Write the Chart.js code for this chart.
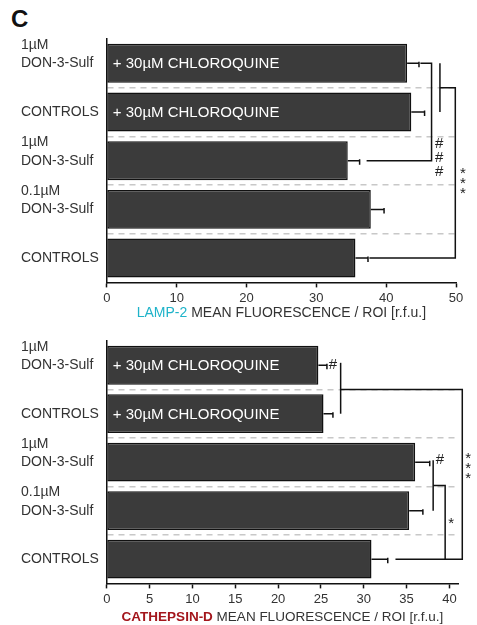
<!DOCTYPE html>
<html>
<head>
<meta charset="utf-8">
<script src="https://cdn.jsdelivr.net/npm/chart.js@4.4.0/dist/chart.umd.min.js"></script>
<style>
  body { margin: 0; background: #fff; width: 477px; height: 625px; position: relative; overflow: hidden; }
  #panel { position: absolute; left: 11px; top: 7px; font: bold 24px "Liberation Sans", Arial, sans-serif; line-height: 24px; color: #111; }
  #lampChart { position: absolute; left: 0; top: 0; }
  #cathChart { position: absolute; left: 0; top: 320px; }
</style>
</head>
<body>
<div id="panel">C</div>
<canvas id="lampChart" width="477" height="320"></canvas>
<canvas id="cathChart" width="477" height="305"></canvas>
<script>
const FONT = '"Liberation Sans", Arial, sans-serif';

// categories, top to bottom
const categories = [
    ['1µM', 'DON-3-Sulf', ''],
    'CONTROLS',
    ['1µM', 'DON-3-Sulf', ''],
    ['0.1µM', 'DON-3-Sulf', ''],
    'CONTROLS'
];
const barNotes = ['+ 30µM CHLOROQUINE', '+ 30µM CHLOROQUINE', '', '', ''];

// LAMP-2 panel
const lampValues = [43.0, 43.6, 34.5, 37.8, 35.6];
const lampErrors = [1.7, 1.9, 1.7, 1.9, 1.8];
const lampTicks = [0, 10, 20, 30, 40, 50];

// CATHEPSIN-D panel
const cathValues = [24.7, 25.3, 36.0, 35.3, 30.9];
const cathErrors = [1.0, 1.1, 1.7, 1.6, 1.9];
const cathTicks = [0, 5, 10, 15, 20, 25, 30, 35, 40];

// significance brackets, [value, category position]
const lampBrackets = [
    [[44.9, 0], [46.5, 0], [46.5, 2], [37.2, 2]],
    [[47.7, 0], [47.7, 1]],
    [[47.7, 0.5], [49.9, 0.5], [49.9, 4], [37.6, 4]]
];
const lampMarks = [
    { text: '###', x: 47.6, y: 1.95, gap: 14 },
    { text: '***', x: 51.0, y: 2.42, gap: 10 }
];

const cathBrackets = [
    [[27.3, -0.05], [27.3, 1.0]],
    [[27.3, 0.5], [41.5, 0.5], [41.5, 4], [33.7, 4]],
    [[38.1, 1.96], [38.1, 3.0]],
    [[38.1, 2.48], [39.5, 2.48], [39.5, 4]]
];
const cathMarks = [
    { text: '#', x: 26.4, y: 0, gap: 0 },
    { text: '#', x: 38.9, y: 1.96, gap: 0 },
    { text: '*', x: 40.2, y: 3.2, gap: 0 },
    { text: '***', x: 42.2, y: 2.07, gap: 10 }
];

function overlayPlugin(values, errors, brackets, marks, title) {
    return {
        id: 'overlay',
        afterDatasetsDraw(chart) {
            const ctx = chart.ctx;
            const xs = chart.scales.x;
            const ys = chart.scales.y;
            const bars = chart.getDatasetMeta(0).data;
            ctx.save();
            ctx.strokeStyle = '#111';
            ctx.lineWidth = 1.5;

            // error bars
            bars.forEach((bar, i) => {
                const xe = xs.getPixelForValue(values[i] + errors[i]);
                ctx.beginPath();
                ctx.moveTo(bar.x, bar.y);
                ctx.lineTo(xe, bar.y);
                ctx.moveTo(xe, bar.y - 1.5);
                ctx.lineTo(xe, bar.y + 4);
                ctx.stroke();
            });

            // text inside bars
            ctx.fillStyle = '#fff';
            ctx.font = '15px ' + FONT;
            ctx.textBaseline = 'middle';
            ctx.textAlign = 'left';
            bars.forEach((bar, i) => {
                if (barNotes[i]) ctx.fillText(barNotes[i], chart.chartArea.left + 6, bar.y + 1);
            });

            // brackets
            brackets.forEach(pts => {
                ctx.beginPath();
                pts.forEach((p, k) => {
                    const px = xs.getPixelForValue(p[0]);
                    const py = ys.getPixelForValue(p[1]);
                    if (k === 0) ctx.moveTo(px, py); else ctx.lineTo(px, py);
                });
                ctx.stroke();
            });

            // significance marks
            ctx.fillStyle = '#222';
            ctx.font = '15px ' + FONT;
            ctx.textAlign = 'center';
            marks.forEach(m => {
                const chars = m.text.split('');
                const cx = xs.getPixelForValue(m.x);
                const cy = ys.getPixelForValue(m.y);
                chars.forEach((c, k) => {
                    const off = (k - (chars.length - 1) / 2) * m.gap + (c === '*' ? 3 : 0);
                    ctx.fillText(c, cx, cy + off);
                });
            });
            ctx.restore();
        },
        afterDraw(chart) {
            // axis title with coloured marker name
            const ctx = chart.ctx;
            const area = chart.chartArea;
            const rest = ' MEAN FLUORESCENCE / ROI [r.f.u.]';
            ctx.save();
            ctx.textBaseline = 'middle';
            ctx.textAlign = 'left';
            const nameFont = (title.bold ? 'bold ' : '') + title.size + 'px ' + FONT;
            const restFont = title.size + 'px ' + FONT;
            ctx.font = nameFont;
            const w1 = ctx.measureText(title.name).width;
            ctx.font = restFont;
            const w2 = ctx.measureText(rest).width;
            const x = (area.left + area.right) / 2 - (w1 + w2) / 2;
            const y = area.bottom + title.offset;
            ctx.font = nameFont;
            ctx.fillStyle = title.color;
            ctx.fillText(title.name, x, y);
            ctx.font = restFont;
            ctx.fillStyle = '#333';
            ctx.fillText(rest, x + w1, y);
            ctx.restore();
        }
    };
}

function createBarChart(canvasId, values, ticks, max, padding, plugin) {
    const ctx = document.getElementById(canvasId).getContext('2d');
    return new Chart(ctx, {
        type: 'bar',
        data: {
            labels: categories,
            datasets: [{
                data: values,
                backgroundColor: '#3b3b3b',
                borderColor: '#111',
                borderWidth: 1.5,
                borderSkipped: false,
                categoryPercentage: 0.8,
                barPercentage: 1.0
            }]
        },
        options: {
            indexAxis: 'y',
            responsive: false,
            animation: false,
            devicePixelRatio: 1,
            layout: { padding: padding },
            plugins: {
                legend: { display: false },
                tooltip: { enabled: false }
            },
            scales: {
                x: {
                    min: 0,
                    max: max,
                    afterBuildTicks: axis => { axis.ticks = ticks.map(v => ({ value: v })); },
                    grid: { drawOnChartArea: false, drawTicks: true, tickLength: 5, tickColor: '#111', tickWidth: 1.5 },
                    border: { color: '#111', width: 1.5 },
                    ticks: { color: '#333', padding: 3, font: { family: FONT, size: 13 } }
                },
                y: {
                    offset: true,
                    grid: {
                        offset: true,
                        drawTicks: false,
                        lineWidth: 1.5,
                        color: c => (c.index === 0 || c.index === undefined) ? 'rgba(0,0,0,0)' : '#c8c8c8'
                    },
                    border: { color: '#111', width: 1.5, dash: [6, 5] },
                    ticks: {
                        color: '#333',
                        padding: 4,
                        crossAlign: 'far',
                        autoSkip: false,
                        font: { family: FONT, size: 14, lineHeight: 1.3 }
                    }
                }
            }
        },
        plugins: [plugin]
    });
}

createBarChart('lampChart', lampValues, lampTicks, 50,
    { left: 21, right: 21, top: 39, bottom: 11 },
    overlayPlugin(lampValues, lampErrors, lampBrackets, lampMarks,
        { name: 'LAMP-2', color: '#1fb3c9', bold: false, size: 14, offset: 31 }));

createBarChart('cathChart', cathValues, cathTicks, 41,
    { left: 21, right: 19, top: 21, bottom: 15 },
    overlayPlugin(cathValues, cathErrors, cathBrackets, cathMarks,
        { name: 'CATHEPSIN-D', color: '#a3161c', bold: true, size: 13.5, offset: 34 }));
</script>
</body>
</html>
